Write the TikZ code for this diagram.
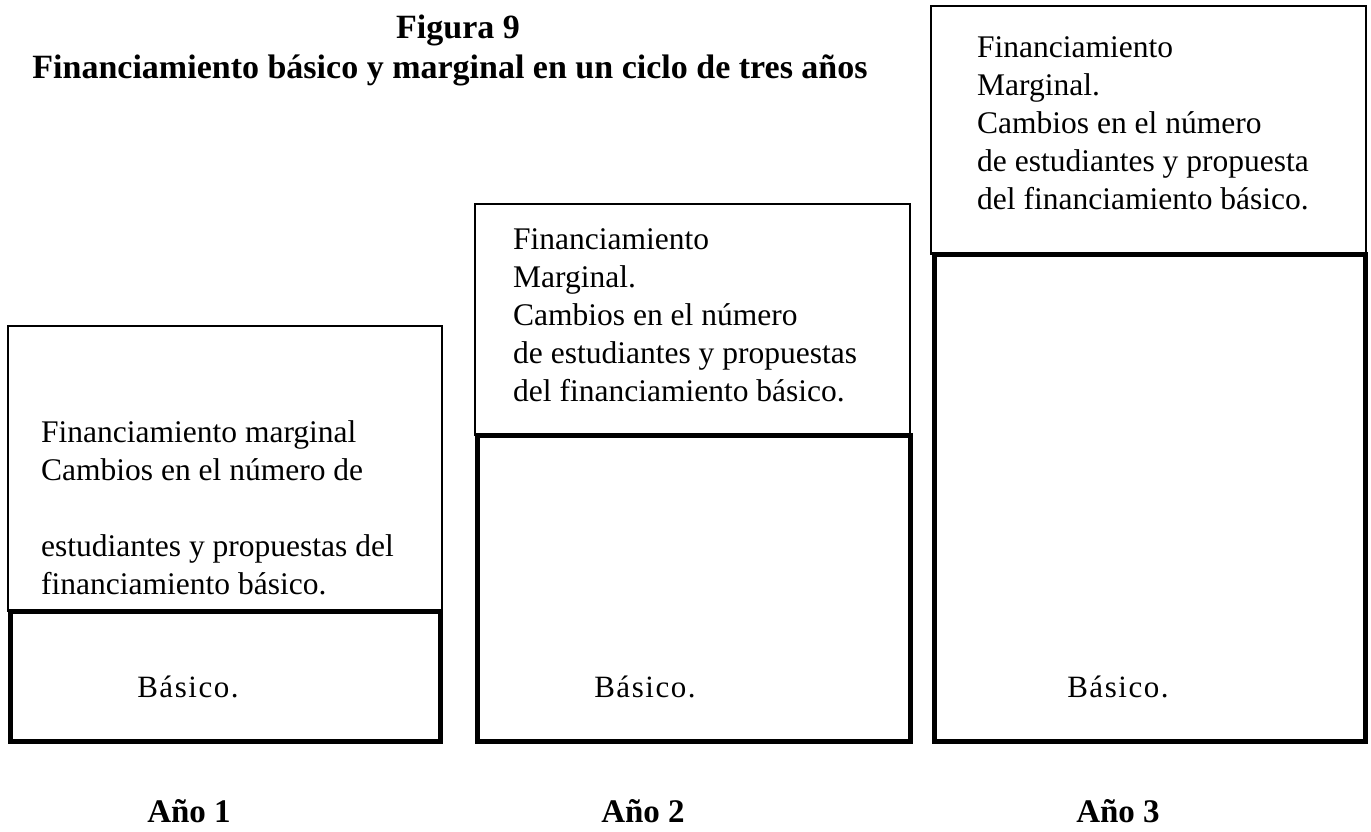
\documentclass[tikz,border=0pt]{standalone}
\usepackage{fontspec}
\setmainfont{Liberation Serif}
\newfontfamily\spacedserif[LetterSpace=5]{Liberation Serif}
\begin{document}
\begin{tikzpicture}[x=1pt,y=-1pt,
  thinbox/.style={draw=black, line width=1.5pt},
  thickbox/.style={draw=black, line width=5pt},
  body/.style={font=\fontsize{31.5}{38}\selectfont, align=left, inner sep=0pt, anchor=north west},
  basiclabel/.style={font=\spacedserif\fontsize{31}{38}\selectfont, inner sep=0pt, anchor=base},
  titletext/.style={font=\fontsize{34}{40}\selectfont\bfseries, inner sep=0pt, anchor=base},
  yearlabel/.style={font=\fontsize{33}{40}\selectfont\bfseries, inner sep=0pt, anchor=base}]
\useasboundingbox[fill=white] (0,0) rectangle (1371,831);
% title
\node[titletext] (fig) at (458,38) {Figura 9};
\node[titletext] (title) at (450,78) {Financiamiento básico y marginal en un ciclo de tres años};
% marginal boxes (thin)
\draw[thinbox] (8,326) rectangle (442,611);
\draw[thinbox] (475,204) rectangle (910,435);
\draw[thinbox] (931,6) rectangle (1366,254);
% basic boxes (thick)
\draw[thickbox] (10,611) rectangle (440,741);
\draw[thickbox] (477,435.5) rectangle (910,741);
\draw[thickbox] (934.5,254.5) rectangle (1365.5,741);
% texts
\node[body] (m1) at (41,420) {Financiamiento marginal\\Cambios en el número de\\[38pt]estudiantes y propuestas del\\financiamiento básico.};
\node[body] (m2) at (513,228) {Financiamiento\\Marginal.\\Cambios en el número\\de estudiantes y propuestas\\del financiamiento básico.};
\node[body] (m3) at (977,36) {Financiamiento\\Marginal.\\Cambios en el número\\de estudiantes y propuesta\\del financiamiento básico.};
\node[basiclabel] (b1) at (188,697) {Básico.};
\node[basiclabel] (b2) at (645,697) {Básico.};
\node[basiclabel] (b3) at (1118,697) {Básico.};
\node[yearlabel] (y1) at (189,822) {Año 1};
\node[yearlabel] (y2) at (643,822) {Año 2};
\node[yearlabel] (y3) at (1118,822) {Año 3};
\end{tikzpicture}
\end{document}
